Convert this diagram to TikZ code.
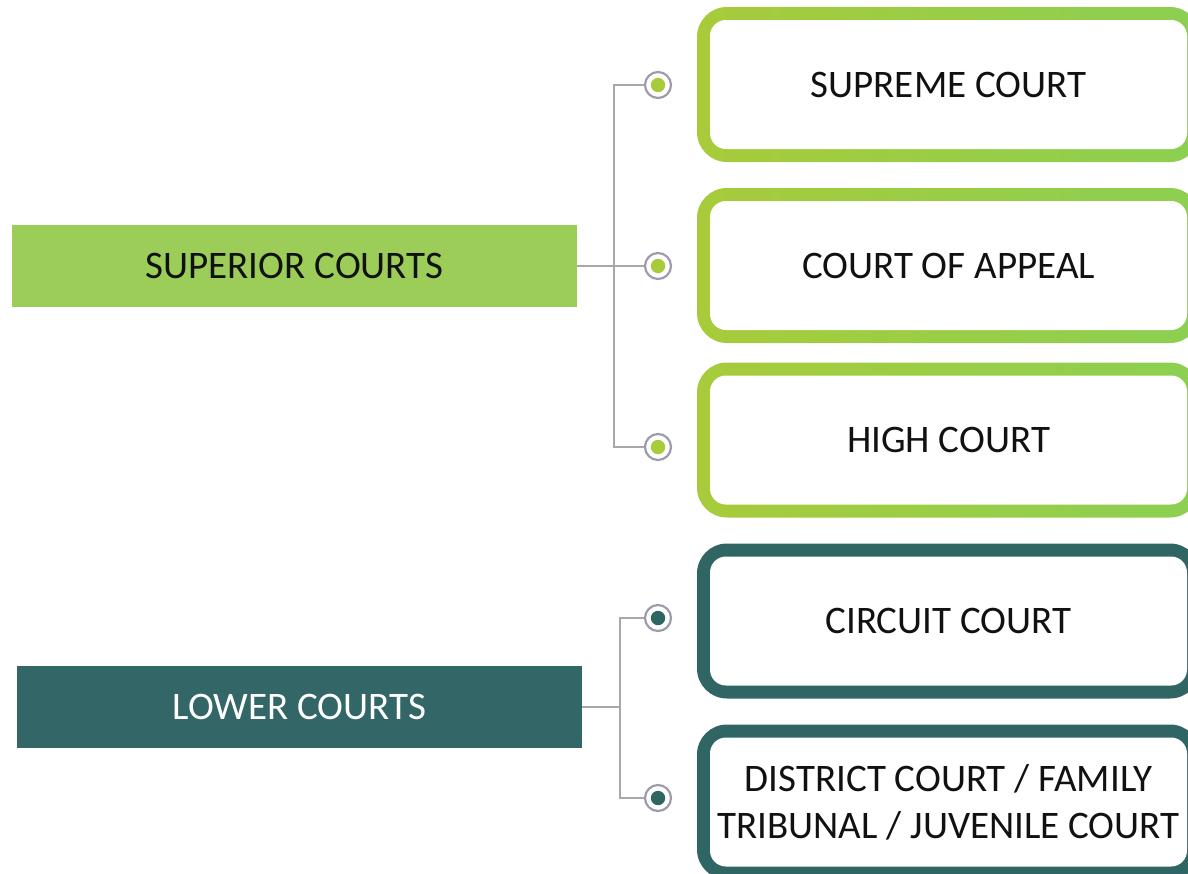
\documentclass[tikz,border=0pt]{standalone}
\usepackage{fontspec}
\setmainfont{Carlito}
\usepackage{tikz}
\usetikzlibrary{calc}
\definecolor{leaf}{HTML}{9BCD58}
\definecolor{leafl}{HTML}{A7CB3A}
\definecolor{leafr}{HTML}{8CCF52}
\definecolor{pine}{HTML}{336666}
\definecolor{pineline}{HTML}{2F6664}
\definecolor{ring}{HTML}{9C9CAC}
\definecolor{wire}{HTML}{A8A8A8}
\definecolor{ink}{HTML}{111111}
\tikzset{
  courtfont/.style={font=\fontsize{19.5}{23.5}\selectfont},
  tier/.style={fill=#1, minimum width=282.5pt, minimum height=41pt, inner sep=0pt, courtfont},
  court/.style 2 args={minimum width=251.5pt, minimum height=77.5pt, inner sep=0pt,
    rounded corners=15pt, align=center, text=ink, courtfont,
    path picture={
      \shade[left color=#1,right color=#2] (path picture bounding box.south west)
        rectangle (path picture bounding box.north east);
      \fill[white,rounded corners=8pt] ([shift={(6.5pt,6.5pt)}]path picture bounding box.south west)
        rectangle ([shift={(-6.5pt,-6.5pt)}]path picture bounding box.north east);}},
  knob/.style={circle, draw=ring, line width=1.1pt, minimum size=13pt, inner sep=0pt,
    path picture={\fill[#1] (path picture bounding box.center) circle (3.6pt);}},
  link/.style={draw=wire, line width=1pt}
}

\begin{document}
\begin{tikzpicture}[x=0.5pt,y=-0.5pt]
  \useasboundingbox (0,0) rectangle (1188,873);
  \fill[white] (0,0) rectangle (1188,873);
  \clip (0,0) rectangle (1188,873);
  % the two tiers
  \node[tier=leaf, text=ink] (sup) at (294.5,266) {SUPERIOR COURTS};
  \node[tier=pine, text=white] (low) at (299.5,707) {LOWER COURTS};
  % courts on the right
  \node[court={leafl}{leafr}] (supreme) at (948.5,84.5) {SUPREME COURT};
  \node[court={leafl}{leafr}] (appeal) at (948.5,265.5) {COURT OF APPEAL};
  \node[court={leafl}{leafr}] (high) at (948.5,440) {HIGH COURT};
  \node[court={pineline}{pineline}] (circuit) at (948.5,621) {CIRCUIT COURT};
  \node[court={pineline}{pineline}] (district) at (948.5,802)
     {DISTRICT COURT / FAMILY\\TRIBUNAL / JUVENILE COURT};
  % knobs
  \foreach \n/\y/\c in {k1/85/leafl,k2/266/leafl,k3/447/leafl,k4/618/pineline,k5/798/pineline}{
    \node[knob=\c] (\n) at (658,\y) {}; }
  \coordinate (upfork) at (614,266);
  \coordinate (lowfork) at (620,707);
  \draw[link] (sup.east) -- (k2.west);
  \draw[link] (k1.west) -| (upfork) |- (k3.west);
  \draw[link] (low.east) -- (lowfork);
  \draw[link] (k4.west) -| (lowfork) |- (k5.west);
\end{tikzpicture}
\end{document}
